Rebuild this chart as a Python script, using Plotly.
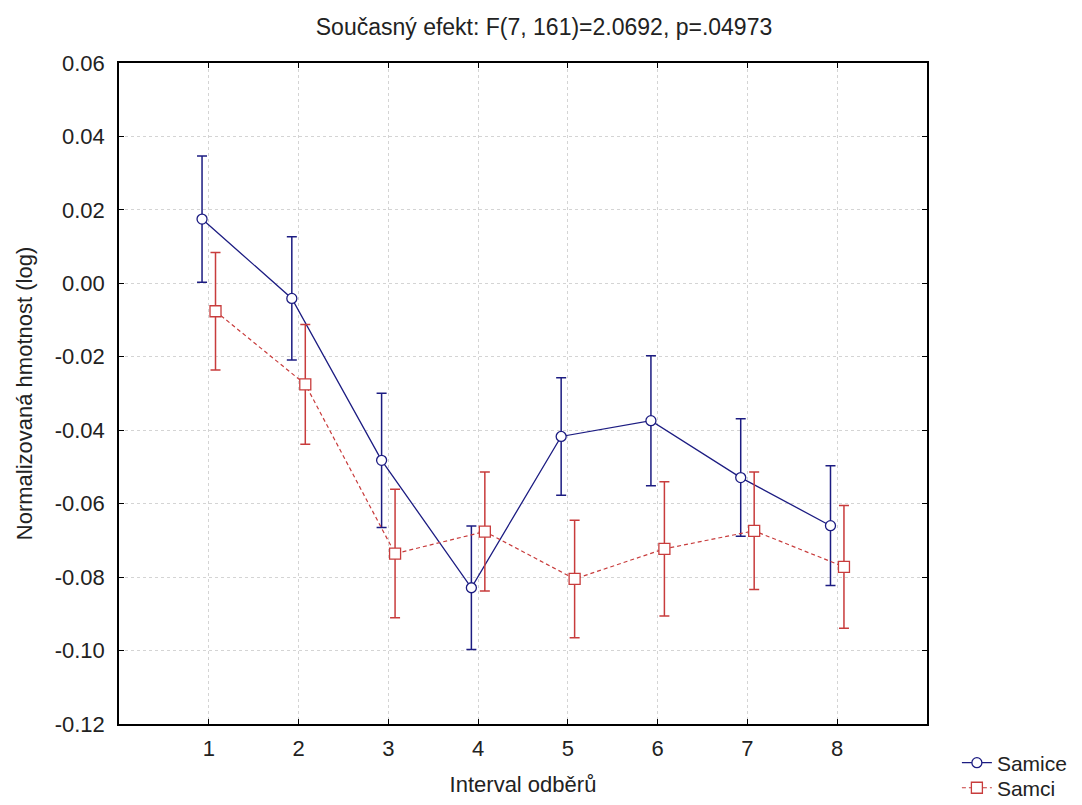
import plotly.graph_objects as go

intervals = [1, 2, 3, 4, 5, 6, 7, 8]
samice_mean = [0.0175, -0.0041, -0.0482, -0.0829, -0.0417, -0.0374, -0.0529, -0.0660]
samice_err = [0.0172, 0.0168, 0.0183, 0.0168, 0.0160, 0.0177, 0.0160, 0.0163]
samci_mean = [-0.0076, -0.0275, -0.0736, -0.0676, -0.0805, -0.0723, -0.0674, -0.0772]
samci_err = [0.0160, 0.0163, 0.0175, 0.0162, 0.0160, 0.0183, 0.0160, 0.0167]
y_ticks = [0.06, 0.04, 0.02, 0.0, -0.02, -0.04, -0.06, -0.08, -0.10, -0.12]
y_ticklabels = ["0.06", "0.04", "0.02", "0.00", "-0.02", "-0.04", "-0.06", "-0.08", "-0.10", "-0.12"]

blue = "#1c1c82"
red = "#c83c3c"
off = 0.075

fig = go.Figure()
fig.add_trace(go.Scatter(
    x=[v - off for v in intervals], y=samice_mean, name="Samice",
    mode="lines+markers", legend="legend",
    line=dict(color=blue, width=1.3),
    marker=dict(symbol="circle", size=10, color="white", line=dict(color=blue, width=1.3)),
    error_y=dict(type="data", array=samice_err, visible=True, color=blue, thickness=1.5, width=5),
))
fig.add_trace(go.Scatter(
    x=[v + off for v in intervals], y=samci_mean, name="Samci",
    mode="lines+markers", legend="legend2",
    line=dict(color=red, width=1.2, dash="4px,3px"),
    marker=dict(symbol="square", size=11, color="white", line=dict(color=red, width=1.3)),
    error_y=dict(type="data", array=samci_err, visible=True, color=red, thickness=1.5, width=5),
))

fam = "Liberation Sans, Arial, sans-serif"
tick_font = dict(family=fam, size=22, color="#222")
title_font = dict(family=fam, size=22, color="#222")
leg_common = dict(xanchor="left", yanchor="middle", bgcolor="rgba(0,0,0,0)",
                  font=dict(family=fam, size=21, color="#222"), itemwidth=30)
fig.update_layout(
    width=1082, height=805,
    paper_bgcolor="white", plot_bgcolor="white",
    margin=dict(l=119, r=155, t=63, b=81, autoexpand=False),
    font=dict(family=fam, color="#222"),
    title=dict(text="Současný efekt: F(7, 161)=2.0692, p=.04973",
               x=544 / 1082, xanchor="center", y=1 - 27 / 805, yanchor="middle",
               font=dict(size=23, color="#222")),
    showlegend=True,
    legend=dict(x=1.037, y=-0.059, **leg_common),
    legend2=dict(x=1.037, y=-0.097, **leg_common),
    xaxis=dict(range=[0, 9], tickvals=intervals, ticktext=[str(v) for v in intervals],
               showgrid=True, gridcolor="#d4d4d4", griddash="dot", gridwidth=1,
               showline=True, linecolor="black", linewidth=1.5, mirror="ticks",
               ticks="inside", ticklen=5, tickcolor="black",
               tickfont=tick_font, zeroline=False, ticklabelstandoff=4,
               title=dict(text="Interval odběrů", font=title_font, standoff=16)),
    yaxis=dict(range=[-0.12, 0.06], tickvals=y_ticks, ticktext=y_ticklabels,
               showgrid=True, gridcolor="#d4d4d4", griddash="dot", gridwidth=1,
               showline=True, linecolor="black", linewidth=1.5, mirror="ticks",
               ticks="inside", ticklen=5, tickcolor="black",
               tickfont=tick_font, zeroline=False, ticklabelstandoff=8,
               title=dict(text="Normalizovaná hmotnost (log)", font=title_font, standoff=16)),
)

fig.write_html("out.html")
